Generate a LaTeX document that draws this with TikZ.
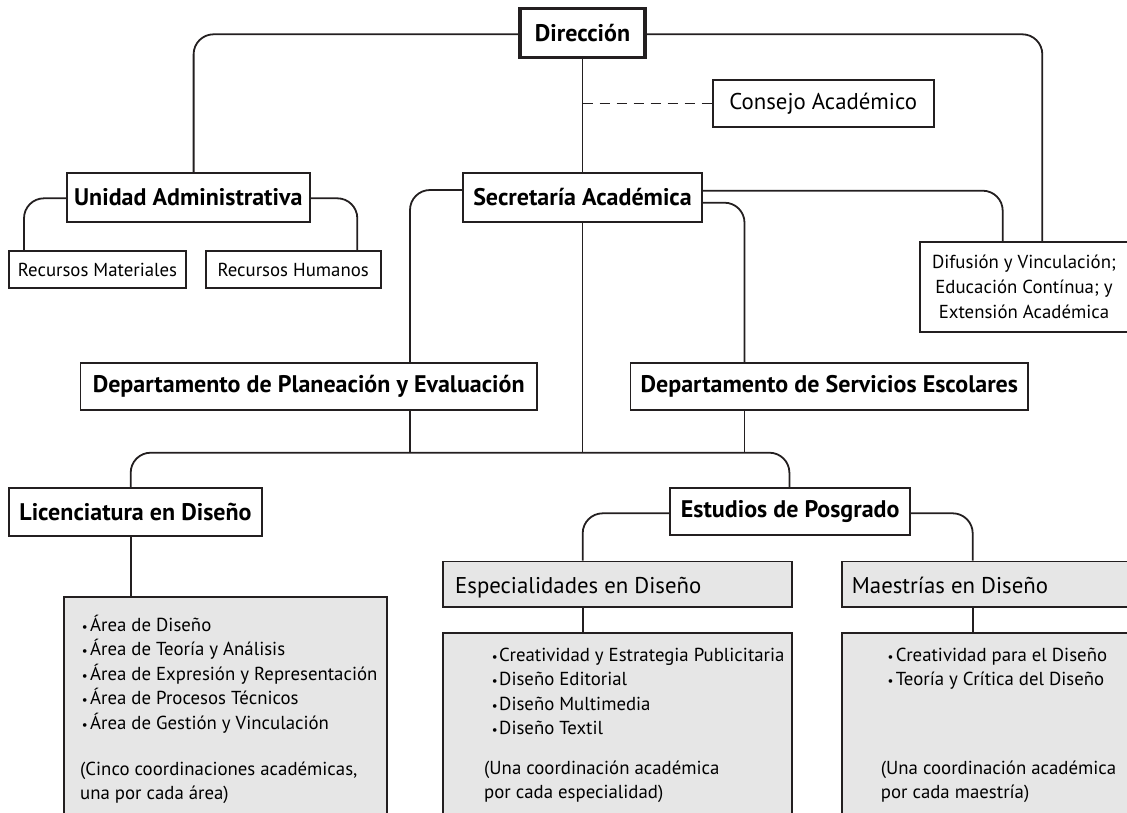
\documentclass[tikz,border=0pt]{standalone}
\usepackage{fontspec}
\setmainfont{PT Sans}
\usetikzlibrary{calc}
\definecolor{ink}{HTML}{231F20}
\definecolor{boxgray}{HTML}{E6E6E6}
\begin{document}
\begin{tikzpicture}[x=1pt,y=-1pt,
  conn/.style={draw=ink, line width=1.8pt, rounded corners=20pt},
  dashline/.style={draw=ink, line width=1.8pt, dash pattern=on 10pt off 7pt},
  bx/.style={draw=ink, line width=1.8pt, rectangle, inner sep=0pt, fill=white},
  gbx/.style={bx, fill=boxgray},
  bold/.style={font=\fontsize{24}{28}\selectfont\bfseries},
  reg/.style={font=\fontsize{22.8}{26}\selectfont},
  small/.style={font=\fontsize{18.8}{25}\selectfont},
  txt/.style={inner sep=0pt, anchor=base west},
]
\useasboundingbox (0,0) rectangle (1127,812);
\clip (0,0) rectangle (1127,812);
% boxes
\node[bx, bold, line width=3.5pt, minimum width=125pt, minimum height=49pt] (dir) at (582.5,32.8) {Dirección};
\node[bx, reg, minimum width=221.2pt, minimum height=47pt] (consejo) at (823.2,103.5) {Consejo Académico};
\node[bx, bold, minimum width=239.3pt, minimum height=48.4pt] (sec) at (582.5,197.5) {Secretaría Académica};
\node[bx, bold, minimum width=243.3pt, minimum height=48.4pt] (unidad) at (188.3,197.5) {Unidad Administrativa};
\node[bx, small, minimum width=176.4pt, minimum height=37.3pt] (recmat) at (97.5,269.7) {Recursos Materiales};
\node[bx, small, minimum width=175pt, minimum height=37.3pt] (rechum) at (293.2,269.7) {Recursos Humanos};
\node[bx, small, align=center, minimum width=208pt, minimum height=90pt] (difusion) at (1024,286.7) {Difusión y Vinculación;\\Educación Contínua; y\\Extensión Académica};
\node[bx, bold, minimum width=456.6pt, minimum height=47.3pt] (plan) at (308.7,386.4) {Departamento de Planeación y Evaluación};
\node[bx, bold, minimum width=397.8pt, minimum height=47.3pt] (serv) at (829.3,386.4) {Departamento de Servicios Escolares};
\node[bx, bold, minimum width=252.4pt, minimum height=48.3pt] (lic) at (135.5,511.8) {Licenciatura en Diseño};
\node[bx, bold, minimum width=239.7pt, minimum height=47.3pt] (est) at (790.2,511.3) {Estudios de Posgrado};
\node[gbx, minimum width=349pt, minimum height=45.2pt] (esp) at (617.5,584.1) {};
\node[gbx, minimum width=293pt, minimum height=45.2pt] (mae) at (988.5,584.1) {};
\node[gbx, minimum width=322.4pt, minimum height=232.7pt] (liclist) at (225.5,713.65) {};
\node[gbx, minimum width=349pt, minimum height=196.7pt] (esplist) at (617.5,731.65) {};
\node[gbx, minimum width=293pt, minimum height=196.7pt] (maelist) at (988.5,731.65) {};
% texts in grey boxes
\node[txt, reg] (espt) at (455,593.3) {Especialidades en Diseño};
\node[txt, reg] (maet) at (851.7,593.3) {Maestrías en Diseño};
\foreach \t [count=\i] in {Área de Diseño, Área de Teoría y Análisis, Área de Expresión y Representación, Área de Procesos Técnicos, Área de Gestión y Vinculación}
  \node[txt, small] (lica\i) at (81.7,{631+24.6*(\i-1)}) {\makebox[8.3pt][l]{\fontsize{13}{13}\selectfont •}\t};
\node[txt, small] (licn1) at (80,775) {(Cinco coordinaciones académicas,};
\node[txt, small] (licn2) at (80,799.5) {una por cada área)};
\foreach \t [count=\i] in {Creatividad y Estrategia Publicitaria, Diseño Editorial, Diseño Multimedia, Diseño Textil}
  \node[txt, small] (espa\i) at (491.7,{661+24.6*(\i-1)}) {\makebox[7.3pt][l]{\fontsize{13}{13}\selectfont •}\t};
\node[txt, small] (espn1) at (484,774.3) {(Una coordinación académica};
\node[txt, small] (espn2) at (484,798.3) {por cada especialidad)};
\foreach \t [count=\i] in {Creatividad para el Diseño, Teoría y Crítica del Diseño}
  \node[txt, small] (maea\i) at (887.3,{661+24.6*(\i-1)}) {\makebox[8.4pt][l]{\fontsize{13}{13}\selectfont •}\t};
\node[txt, small] (maen1) at (880.7,774.3) {(Una coordinación académica};
\node[txt, small] (maen2) at (880.7,798.3) {por cada maestría)};
% helper coordinates
\coordinate (bus) at (582.5,452.7);
\coordinate (dj) at (582.5,103.5);
\coordinate (pl) at ([xshift=101.3pt]plan.south);
\coordinate (sv) at ([xshift=-84.8pt]serv.south);
\coordinate (lc) at ([xshift=-4.8pt]lic.south);
\coordinate (es) at ([xshift=-34.8pt]esp.south);
\coordinate (ma) at ([xshift=-15.8pt]mae.south);
% connectors
\draw[conn] ([yshift=-1.5pt]dir.west) -| ([xshift=5.3pt]unidad.north);
\draw[conn] ([yshift=-1.5pt]dir.east) -| ([xshift=18.3pt]difusion.north);
\draw[conn] (dir.south) -- (sec.north);
\draw[dashline] (dj) -- (consejo.west);
\draw[conn] ([yshift=7.5pt]sec.west) -| ([xshift=101.3pt]plan.north);
\draw[conn] ([yshift=6.8pt]sec.east) -| ([xshift=-21.3pt]difusion.north);
\draw[conn] ([yshift=-5.2pt]sec.east) -| ([xshift=-84.8pt]serv.north);
\draw[conn] ([yshift=-0.8pt]unidad.west) -| ([xshift=-73.5pt]recmat.north);
\draw[conn] ([yshift=-0.8pt]unidad.east) -| ([xshift=64.1pt]rechum.north);
\draw[conn] (sec.south) -- (bus);
\draw[conn] (pl) -- (pl |- bus);
\draw[conn] (sv) -- (sv |- bus);
\draw[conn] ([xshift=-4.8pt]lic.north) |- (bus) -| ([xshift=-0.8pt]est.north);
\draw[conn] ([yshift=-2pt]est.west) -| ([xshift=-34.8pt]esp.north);
\draw[conn] ([yshift=-2pt]est.east) -| ([xshift=-15.8pt]mae.north);
\draw[conn] (lc) -- (lc |- liclist.north);
\draw[conn] (es) -- (es |- esplist.north);
\draw[conn] (ma) -- (ma |- maelist.north);
\end{tikzpicture}
\end{document}
